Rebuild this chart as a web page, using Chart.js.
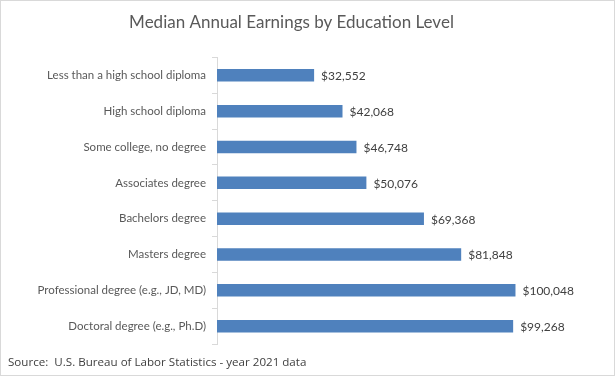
<!DOCTYPE html>
<html>
<head>
<meta charset="utf-8">
<script src="https://cdn.jsdelivr.net/npm/chart.js@4/dist/chart.umd.min.js"></script>
<style>
  html, body { margin: 0; padding: 0; background: #fff; }
  #wrap { width: 615px; height: 376px; box-sizing: border-box; border: 1px solid #d9d9d9; }
  #wrap canvas { display: block; }
</style>
</head>
<body>
<div id="wrap"><canvas id="chart" width="613" height="374"></canvas></div>
<script>
var categories = [
    'Less than a high school diploma',
    'High school diploma',
    'Some college, no degree',
    'Associates degree',
    'Bachelors degree',
    'Masters degree',
    'Professional degree (e.g., JD, MD)',
    'Doctoral degree (e.g., Ph.D)'
];
var earnings = [32552, 42068, 46748, 50076, 69368, 81848, 100048, 99268];
var axisMax = 120000;

var titleText = 'Median Annual Earnings by Education Level';
var sourceText = 'Source:  U.S. Bureau of Labor Statistics - year 2021 data';

var fontFamily = 'Lato, "Open Sans", sans-serif';

// writes "$xx,xxx" just right of each bar
var valueLabels = {
    id: 'valueLabels',
    afterDatasetsDraw: function(chart) {
        var ctx = chart.ctx;
        var meta = chart.getDatasetMeta(0);
        ctx.save();
        ctx.font = '12px ' + fontFamily;
        ctx.fillStyle = '#404040';
        ctx.textAlign = 'left';
        ctx.textBaseline = 'middle';
        meta.data.forEach(function(bar, i) {
            var v = chart.data.datasets[0].data[i];
            ctx.fillText('$' + v.toLocaleString('en-US'), bar.x + 7, bar.y + 1);
        });
        ctx.restore();
    }
};

var ctx = document.getElementById('chart').getContext('2d');

var chartData = {
    type: 'bar',
    data: {
        labels: categories,
        datasets: [{
            label: 'Median annual earnings',
            data: earnings,
            backgroundColor: '#4f81bd',
            borderWidth: 0,
            barPercentage: 0.35,
            categoryPercentage: 1
        }]
    },
    options: {
        indexAxis: 'y',
        responsive: false,
        animation: false,
        layout: { padding: { left: 7, right: 39, top: 0, bottom: 0 } },
        plugins: {
            legend: { display: false },
            tooltip: { enabled: false },
            title: {
                display: true,
                text: titleText,
                color: '#595959',
                font: { family: fontFamily, size: 17, weight: 'normal' },
                padding: { top: 11, bottom: 25 }
            },
            subtitle: {
                display: true,
                text: sourceText,
                position: 'bottom',
                align: 'start',
                color: '#404040',
                font: { family: '"Open Sans", sans-serif', size: 11.6, weight: 'normal' },
                padding: { top: 12, bottom: 5 }
            }
        },
        scales: {
            x: {
                display: false,
                min: 0,
                max: axisMax
            },
            y: {
                afterFit: function(scale) { scale.width = 209; },
                grid: {
                    offset: true,
                    drawOnChartArea: false,
                    drawTicks: true,
                    tickLength: 5,
                    color: '#d9d9d9'
                },
                border: { display: true, color: '#d9d9d9' },
                ticks: {
                    color: '#595959',
                    padding: 6,
                    font: { family: fontFamily, size: 11.5 }
                }
            }
        }
    },
    plugins: [valueLabels]
};

var myChart = new Chart(ctx, chartData);
</script>
</body>
</html>
